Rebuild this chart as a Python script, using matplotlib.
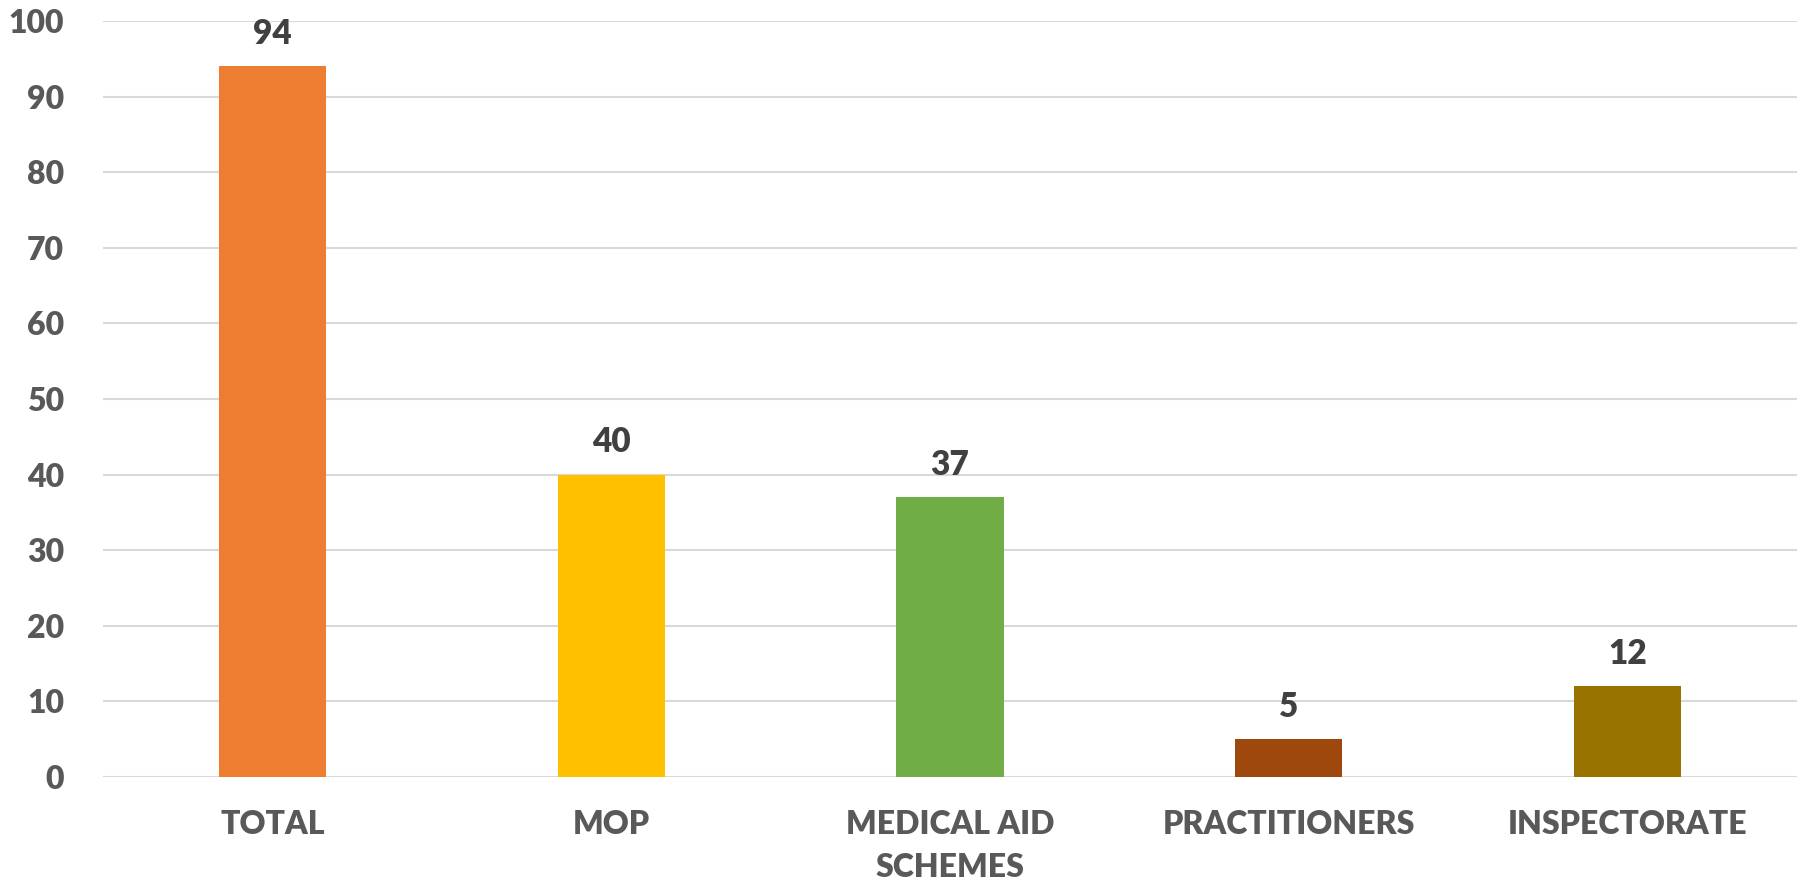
import matplotlib.pyplot as plt
import numpy as np

categories = ['TOTAL', 'MOP', 'MEDICAL AID\nSCHEMES', 'PRACTITIONERS', 'INSPECTORATE']
values = [94, 40, 37, 5, 12]
colors = ['#ED7D31', '#FFC000', '#70AD47', '#9E480E', '#997300']
yticks = np.arange(0, 101, 10)

plt.rcParams['font.family'] = ['Lato', 'DejaVu Sans']
grey = '#595959'

fig = plt.figure(figsize=(18, 8.85), dpi=100)
ax = fig.add_axes([103/1800, 1 - 777/885, 1694/1800, 756/885])

x = np.arange(len(categories))
bars = ax.bar(x, values, width=0.316, color=colors, zorder=3)

for b, v in zip(bars, values):
    ax.annotate(str(v), (b.get_x() + b.get_width()/2, v), xytext=(0, 12),
                textcoords='offset points', ha='center', va='bottom',
                fontsize=24, fontweight='heavy', color='#404040')

ax.set_xlim(-0.5, len(categories) - 0.5)
ax.set_ylim(0, 100)
ax.set_yticks(yticks)
ax.set_xticks(x)
ax.set_xticklabels(categories, fontsize=23, fontweight='heavy', color=grey, linespacing=1.55)
ax.tick_params(axis='y', labelsize=23, colors=grey, length=0, pad=28)
ax.tick_params(axis='x', length=0, pad=24)
for lab in ax.get_yticklabels():
    lab.set_fontweight('heavy')

ax.grid(axis='y', color='#D9D9D9', linewidth=1.5, zorder=0)
for s in ax.spines.values():
    s.set_visible(False)

fig.savefig('out.png', dpi=100)
